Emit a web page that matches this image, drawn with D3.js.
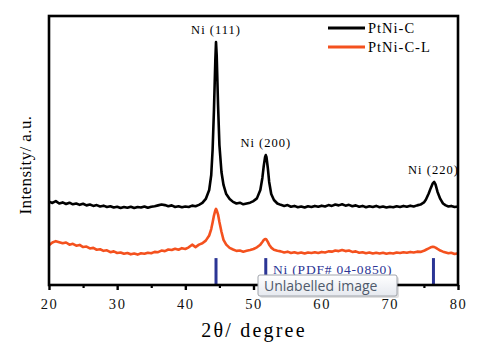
<!DOCTYPE html>
<html><head><meta charset="utf-8">
<script src="https://cdn.jsdelivr.net/npm/d3@7"></script>
<style>
html,body{margin:0;padding:0;background:#fff;}
svg{display:block;}
</style></head>
<body>
<svg id="chart" width="487" height="348"></svg>
<script>
const twoTheta = [
 20,20.5,21,21.5,22,22.5,23,23.5,24,24.5,25,25.5,26,26.5,27,27.5,28,28.5,29,29.5,30,30.5,31,31.5,32,32.5,33,33.5,34,34.5,35,35.5,36,36.5,37,37.5,38,38.5,39,39.5,40,40.5,41,41.5,42,
 42.5,43,43.5,43.8,44,44.2,44.4,44.5,44.6,44.8,45,45.3,45.6,46,46.5,47,47.5,48,48.5,49,49.5,50,50.5,51,51.3,51.5,51.7,51.8,51.9,52.1,52.3,52.6,53,53.5,54,
 54.5,55,55.5,56,56.5,57,57.5,58,58.5,59,59.5,60,60.5,61,61.5,62,62.5,63,63.5,64,64.5,65,65.5,66,66.5,67,67.5,68,68.5,69,69.5,70,70.5,71,71.5,72,72.5,73,73.5,74,
 74.5,75,75.3,75.7,76,76.3,76.5,76.7,77,77.4,77.8,78.2,78.6,79,79.5,80
];
const ptniC = [
 310,305,312,303,307,301,306,300,303,298,302,296,299,294,297,292,295,290,293,288,291,286,290,287,291,286,290,288,292,287,291,293,296,299,297,293,296,290,293,289,292,290,295,293,298,
 305,320,353,409,502,651,836,903,855,669,520,420,372,338,320,309,303,306,300,303,306,312,322,353,398,442,476,483,476,435,383,338,316,303,298,
 294,297,291,294,289,292,288,293,290,294,291,295,292,297,294,299,296,300,295,298,293,296,291,294,289,293,290,294,289,292,288,291,289,293,290,294,291,295,292,296,
 299,307,318,340,360,378,383,374,346,320,303,296,292,294,290,292
];
const ptniCL = [
 148,158,163,159,155,158,150,153,146,149,141,143,136,138,131,133,127,129,122,125,119,121,116,119,114,117,113,118,116,120,118,123,122,128,126,132,130,135,131,137,134,140,150,141,150,
 155,165,184,208,232,258,278,283,278,262,234,198,168,150,138,132,127,128,124,127,130,134,140,150,160,167,171,171,169,160,150,139,131,127,125,
 121,124,119,122,118,121,117,121,119,122,119,123,121,125,124,128,126,130,126,128,123,125,120,122,118,121,117,120,117,120,116,119,117,121,119,122,120,123,121,124,
 123,127,131,136,140,142,141,139,134,128,124,121,118,120,115,118
];
const seriesNames = ["PtNi-C", "PtNi-C-L"];
const seriesColors = ["#000000", "#f4511e"];
const refPeaks = [44.5, 51.8, 76.4];
const peakLabels = ["Ni (111)", "Ni (200)", "Ni (220)"];
const xTicks = [20, 30, 40, 50, 60, 70, 80];
const xMinorTicks = [25, 35, 45, 55, 65, 75];

const svg = d3.select("#chart");
const L = 49, R = 458, T = 16, B = 285;
const x = d3.scaleLinear().domain([20, 80]).range([L, R]);
const y = d3.scaleLinear().domain([0, 1000]).range([B, T]);
const SERIF = '"Liberation Serif","Times New Roman",Times,serif';

// reference stick lines
svg.selectAll("line.ref").data(refPeaks).enter().append("line")
  .attr("x1", d => x(d)).attr("x2", d => x(d))
  .attr("y1", y(100)).attr("y2", B)
  .attr("stroke", "#2b3595").attr("stroke-width", 3);

svg.append("text").attr("x", 273).attr("y", 274)
  .style("font-family", SERIF).style("font-size", "13.5px")
  .attr("letter-spacing", 0.8).attr("fill", "#2b3595")
  .text("Ni (PDF# 04-0850)");

// curves
const line = d3.line().x((d, i) => x(twoTheta[i])).y(d => y(d));
[[ptniCL, 1], [ptniC, 0]].forEach(([s, idx]) => {
  svg.append("path").datum(s).attr("d", line)
    .attr("fill", "none").attr("stroke", seriesColors[idx])
    .attr("stroke-width", 2.6).attr("stroke-linejoin", "round");
});

// frame
svg.append("rect").attr("x", L).attr("y", T).attr("width", R - L).attr("height", B - T)
  .attr("fill", "none").attr("stroke", "#000").attr("stroke-width", 2.6);

// x axis
const ax = svg.append("g").attr("transform", `translate(0,${B})`)
  .call(d3.axisBottom(x).tickValues(xTicks).tickSize(5).tickPadding(9).tickFormat(d3.format("d")));
ax.select(".domain").remove();
ax.attr("font-family", SERIF);
ax.selectAll(".tick line").attr("stroke-width", 2.4);
ax.selectAll("text").style("font-family", SERIF).style("font-size", "14.5px")
  .attr("letter-spacing", 1.6).attr("fill", "#111");
const axm = svg.append("g").attr("transform", `translate(0,${B})`)
  .call(d3.axisBottom(x).tickValues(xMinorTicks).tickSize(3).tickFormat(""));
axm.select(".domain").remove();
axm.selectAll(".tick line").attr("stroke-width", 2.2);

// titles
svg.append("text").attr("x", 254).attr("y", 337).attr("text-anchor", "middle")
  .style("font-family", SERIF).style("font-size", "20px").attr("letter-spacing", 2.2)
  .text("2θ/ degree");
svg.append("text").attr("transform", "translate(31,165) rotate(-90)").attr("text-anchor", "middle")
  .style("font-family", SERIF).style("font-size", "17px").attr("letter-spacing", 0.4)
  .text("Intensity/ a.u.");

// peak labels placed just above each PtNi-C peak
svg.selectAll("text.pk").data(refPeaks).enter().append("text")
  .attr("x", d => x(d))
  .attr("y", d => {
    const near = ptniC.filter((v, i) => Math.abs(twoTheta[i] - d) < 0.6);
    return y(d3.max(near)) - 8;
  })
  .attr("text-anchor", "middle")
  .style("font-family", SERIF).style("font-size", "12.5px").attr("letter-spacing", 1)
  .text((d, i) => peakLabels[i]);

// legend
seriesNames.forEach((n, i) => {
  const ly = 28 + i * 19;
  svg.append("line").attr("x1", 328).attr("x2", 365).attr("y1", ly).attr("y2", ly)
    .attr("stroke", seriesColors[i]).attr("stroke-width", 3);
  svg.append("text").attr("x", 368).attr("y", ly + 5)
    .style("font-family", SERIF).style("font-size", "14.5px").attr("letter-spacing", 1)
    .text(n);
});

// tooltip overlay seen in the reference
const defs = svg.append("defs");
const g = defs.append("linearGradient").attr("id", "tipg").attr("x1", 0).attr("y1", 0).attr("x2", 0).attr("y2", 1);
g.append("stop").attr("offset", "0%").attr("stop-color", "#ffffff");
g.append("stop").attr("offset", "100%").attr("stop-color", "#e6e9ef");
svg.append("rect").attr("x", 260).attr("y", 277).attr("width", 139).attr("height", 21)
  .attr("rx", 2).attr("fill", "#000").attr("opacity", 0.12);
svg.append("rect").attr("x", 258).attr("y", 275).attr("width", 139).attr("height", 21)
  .attr("rx", 2).attr("fill", "url(#tipg)").attr("stroke", "#a0a4ab").attr("stroke-width", 1);
svg.append("text").attr("x", 264).attr("y", 291)
  .style("font-family", '"Open Sans","DejaVu Sans",sans-serif').style("font-size", "14px").attr("fill", "#4f5a6b")
  .text("Unlabelled image");
</script>
</body></html>
